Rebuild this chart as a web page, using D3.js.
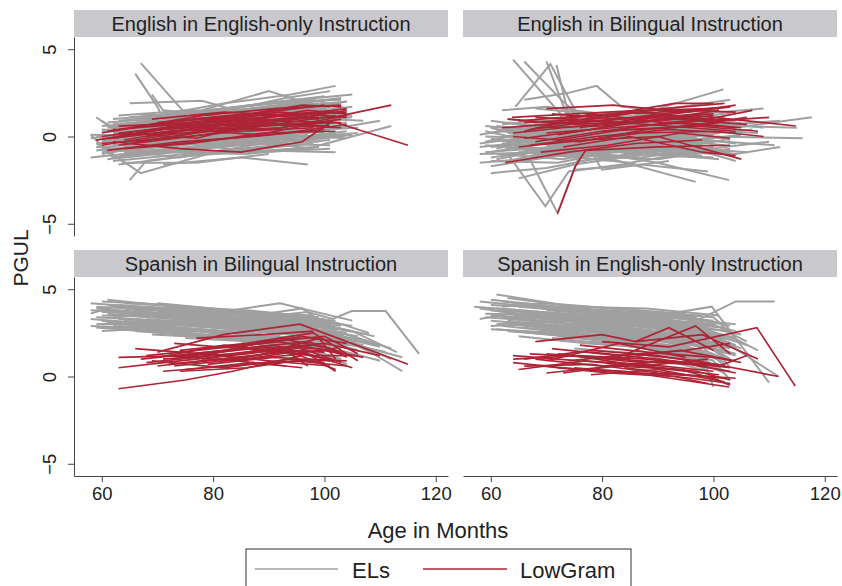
<!DOCTYPE html>
<html>
<head>
<meta charset="utf-8">
<script src="https://cdn.jsdelivr.net/npm/d3@7"></script>
<style>
body{margin:0;background:#fff;}
text{font-family:"Liberation Sans",Arial,sans-serif;fill:#222;}
</style>
</head>
<body>
<svg id="chart"></svg>
<script>
// each line = one child: age,value,age,value,...
var engOnlyGray=[
[59,-0.4,72,0.1,86,0.5,100,0.9],[60,0.6,73,0.9,86,1.2,99,1.5],[61,-0.9,74,-0.5,87,0.2,101,0.6],
[58,-1.2,70,-0.8,84,-0.3,97,0.1],[62,0.2,75,0.7,88,1.4,102,1.9],[60,-0.2,72,-0.6,85,-0.1,98,0.3],
[63,0.9,76,1.2,89,1.7,103,2.2],[61,0.3,74,0.3,87,0.9,100,1.2],[59,1.1,63,0.2,76,0.6,90,0.9],
[64,-0.6,77,-0.2,90,0.4,104,0.8],[62,-1.4,75,-1.0,88,-0.6,101,-0.2],[60,0.0,73,0.5,86,0.8,99,1.3],
[65,0.4,78,1.0,91,1.6,104,2.0],[58,0.1,71,0.0,84,0.4,96,0.7],[63,-0.2,76,0.2,89,0.8,102,1.0],
[61,-0.7,74,-1.2,87,-0.5,100,-0.1],[66,0.8,79,1.5,92,2.0,105,2.4],[60,-1.0,72,-0.3,85,0.2,98,0.0],
[64,0.5,77,0.4,90,1.1,103,1.4],[62,0.7,75,1.0,88,0.6,101,1.7],[67,-0.4,80,0.0,93,0.3,106,0.5],
[59,-0.6,72,-0.9,85,-0.8,98,-0.4],[65,-1.0,78,-0.6,91,-0.2,104,0.3],[63,1.2,76,1.5,89,1.3,102,1.8],
[61,0.0,74,0.9,87,1.4,100,2.1],[60,-0.3,73,-0.1,86,0.0,99,-0.3],[66,0.1,79,0.6,92,0.9,105,1.2],
[62,-0.8,75,-0.4,88,-0.9,101,-0.7],[67,4.2,74.5,1.5,86,0.9,99,1.4],[66,3.6,70,1.7,73,-0.5,85,0.1],
[69,2.4,71,1.5,83,1.1,96,1.6],[65,1.9,78,2.05,84,1.5,97,1.9],[64,0.9,78,1.5,90,2.6,100,1.6],
[70,1.2,82,1.9,94,2.4,102,2.9],[68,0.6,81,1.4,93,2.2,101,2.6],[65,-2.5,68,-1.4,80,-0.9,93,-0.5],
[59,-0.4,67,-2.1,79,-1.0,91,-0.6],[71,-1.6,85,-1.2,97,-1.6],[86,-0.9,98,-0.6,112,0.6],
[84,-0.2,97,0.2,110,0.9],[58,0.1,62,-1.2,75,-0.8],[63,-1.6,76,-1.1,89,-0.8,102,-0.9],
[60,0.9,66,-0.3,79,0.3,92,0.8],[68,-0.2,81,0.9,94,1.1,107,0.9],[64,-0.5,77,0.6,90,0.2,103,0.6],
[72,1.0,85,1.7,98,2.1,104,1.6],[60,-0.5,64,-1.5,77,-1.5,90,-1.0],[88,0.0,100,-0.1,105,0.1],
[70,0.3,83,1.2,96,1.5,103,1.9],[58,-0.1,70,0.4,83,-0.1,96,0.5],
[60,0.3,72,0.6,85,0.9,98,1.1],[62,-0.5,74,0.0,87,0.4,100,0.7],[61,0.8,73,1.1,86,1.5,99,1.9],
[59,-0.8,71,-0.4,84,0.1,97,0.4],[63,0.0,75,0.3,88,0.6,101,1.1],[64,-0.9,76,-0.7,89,-0.3,102,0.2],
[60,0.4,72,0.1,85,0.6,98,0.9],[62,1.0,74,1.3,87,1.8,100,2.3],[65,-0.3,77,0.1,90,0.7,103,1.3],
[61,-0.2,73,0.2,86,0.3,99,0.6],[66,0.6,78,0.9,91,1.3,104,1.6],[63,-1.1,75,-0.8,88,-0.4,101,-0.5],
[67,0.2,79,0.4,92,1.2,105,1.7],[60,-0.6,72,-0.3,85,-0.5,98,-0.1],[64,0.7,76,1.1,89,1.0,102,1.4],
[62,-0.3,74,0.5,87,1.1,100,1.6],[68,-0.8,80,-0.5,93,-0.1,106,0.2],[61,0.5,73,0.8,86,0.6,99,0.8],
[65,1.1,77,1.4,90,1.9,103,2.1],[59,0.0,71,-0.2,84,0.2,97,0.9],[63,0.4,75,0.0,88,0.3,101,0.4],
[66,-0.5,78,-0.3,91,0.1,104,-0.1],[60,-0.9,72,-0.5,85,-0.2,98,-0.7],[69,0.5,81,0.8,94,0.6,104,1.0],
[64,0.1,76,0.8,89,1.5,102,1.3],[62,0.6,74,0.2,87,0.5,100,0.2],[70,-0.3,82,0.4,95,0.8,105,1.1],
[67,1.3,79,1.0,92,1.4,104,2.0],[61,-1.3,73,-0.9,86,-1.0,99,-0.6],[65,-0.1,77,-0.4,90,-0.4,103,0.1]
]
var engOnlyRed=[
[59,-0.2,72,0.3,86,0.6,102,0.8,115,-0.5],[66,0.2,79,0.8,92,1.0,101.5,1.1,112,1.8],
[62,-0.3,74,-0.7,85,-0.9,96,-0.3,101.5,0.9],[60,0.0,73,0.6,86,1.0,99,1.4],[63,-0.5,76,0.0,89,0.6,102,1.2],
[61,0.3,74,0.9,87,1.3,100,1.8],[64,-0.2,77,0.5,90,0.4,103,1.0],[60,-0.4,72,-0.1,85,0.3,98,0.5],
[65,0.5,78,1.2,91,1.6,103,1.8],[62,0.1,75,0.2,88,0.8,101,0.6],[67,-0.6,80,-0.2,93,0.2,104,0.7],
[59,-0.2,71,0.4,84,0.7,97,1.2],[63,0.6,76,0.8,89,1.1,102,1.5],[68,0.0,81,0.6,94,1.3,104,1.4],
[61,-0.8,74,-0.3,87,0.0,100,0.4],[70,0.8,83,1.1,96,1.8,103,1.7],[64,0.2,77,-0.1,90,0.9,103,0.8],
[66,-0.3,79,0.3,92,0.5,104,1.2],[60,0.2,73,0.9,86,1.3,99,1.0],[72,0.4,85,0.9,97,1.5,104,1.3],
[62,-0.1,75,0.4,88,0.1,101,0.9],[69,1.0,82,1.4,95,1.2,104,1.6],
[61,-0.1,73,0.5,86,0.8,99,1.1],[63,0.2,75,0.6,88,1.2,101,1.4],[65,-0.4,77,0.2,90,0.7,103,0.5],
[60,-0.5,72,0.1,85,0.5,98,0.8],[67,0.6,79,0.9,92,1.4,104,1.1],[62,0.4,74,0.7,87,0.6,100,1.3],
[64,-0.7,76,-0.4,89,0.2,102,0.3],[68,0.3,80,1.0,93,0.9,104,1.5]
]
var engBiGray=[
[58,-0.6,70,-0.2,83,0.1,96,-0.3],[59,0.3,71,-0.5,84,0.4,97,0.0],[60,-1.2,72,-0.7,85,-0.4,98,0.2],
[61,0.6,73,0.2,86,0.8,99,0.5],[60,-0.1,72,-1.0,85,-0.8,98,-0.5],[62,-0.8,74,0.1,87,-0.2,100,0.6],
[58,-1.5,70,-1.2,83,-0.6,96,-1.0],[63,0.2,75,0.7,88,0.3,101,0.9],[59,-0.3,71,0.5,84,1.0,97,0.7],
[61,-1.0,73,-1.3,86,-0.5,99,-0.7],[64,0.0,76,-0.4,89,0.5,102,0.3],[60,0.9,72,0.4,85,0.0,98,1.0],
[62,-0.4,74,-0.9,87,-1.2,100,-0.6],[65,-0.7,77,0.3,90,0.6,103,-0.2],[58,0.1,70,0.8,83,0.5,96,1.2],
[63,-1.4,75,-0.6,88,-0.9,101,-1.3],[66,0.5,78,1.1,91,0.8,104,1.4],[60,-0.9,72,-0.2,85,-1.0,98,-1.2],
[61,0.4,73,0.0,86,-0.3,99,0.3],[64,-0.2,76,0.6,89,1.0,102,1.1],[67,-1.1,79,-0.8,92,-0.4,105,0.1],
[59,-0.5,71,-0.8,84,-0.1,97,0.4],[62,0.7,74,1.0,87,1.2,100,0.8],[65,0.1,77,-0.5,90,-0.7,103,-0.9],
[68,-0.3,80,0.2,93,0.9,106,0.6],[60,-1.7,72,-1.1,85,-1.5,98,-0.8],[63,1.0,75,0.5,88,1.3,101,1.5],
[66,-0.6,78,-1.0,91,-0.2,104,-1.4],[70,0.3,82,0.0,95,0.4,108,0.2],[72,-0.5,84,-0.3,97,-0.8,110,-0.3],
[74,0.8,86,1.1,99,0.6,112,0.9],[64,4.4,72.5,1.3,76,-1.4,88,-0.9],[66,4.3,73,2.0,78,0.6,90,0.2],
[70,4.3,74.5,0.5,86,0.1,98,-0.4],[71.8,4.1,74,1.2,80,-1.9,92,-1.4],[64.4,1.7,70.7,4.15,76,1.0,88,0.4],
[66,2.1,74,2.5,79,2.9,83.5,1.7,95,1.4],[62,1.5,70,1.7,84.8,1.1,101.8,2.7],[68,1.6,78,1.3,90,1.5,103,2.1],
[84,-0.8,97,0.2,117.7,1.1],[88,0.3,100,0.0,116,-0.1],[90,-0.2,104,0.6,115,0.5],[86,0.9,98,1.3,109,1.6],
[65,-2.4,75,-1.6,88,-1.0,100,-1.2],[67,-1.3,72,-4.4,76,-1.0,90,-0.8],[63,-1.0,69.8,-4.0,74,-2.0,86,-1.5],
[70,-0.5,83,-1.4,96.8,-2.6],[78,-0.9,90,-1.5,102.8,-2.5],[75,-1.9,87,-1.6,99,-2.0],[60,-2.1,70,-1.8,80,-1.2],
[92,-0.6,104,-1.0,112,-0.6],
[59,-0.9,71,-0.6,84,-0.3,97,-0.1],[61,-0.2,73,-0.4,86,0.2,99,-0.2],[58,-0.4,70,0.1,83,-0.5,96,0.3],
[62,0.3,74,-0.2,87,0.6,100,0.1],[60,-0.6,72,-0.3,85,0.3,98,-0.6],[63,-0.3,75,0.2,88,-0.4,101,0.2],
[59,0.6,71,0.2,84,0.7,97,0.4],[64,-1.0,76,-0.7,89,-0.1,102,-0.5],[61,-1.3,73,-0.6,86,-0.9,99,-0.3],
[65,0.4,77,0.0,90,0.3,103,0.7],[60,0.2,72,0.7,85,0.4,98,0.6],[62,-1.1,74,-0.4,87,-0.7,100,-1.0],
[66,-0.2,78,-0.6,91,0.1,104,-0.4],[58,-1.0,70,-0.9,83,-1.1,96,-0.5],[63,0.8,75,0.3,88,0.9,101,0.4],
[67,0.0,79,0.5,92,0.2,105,0.8],[61,-0.7,73,0.3,86,0.0,99,-0.9],[64,0.5,76,1.0,89,0.7,102,0.6],
[60,-1.4,72,-1.5,85,-0.7,98,-1.1],[65,-0.9,77,-1.1,90,-1.3,103,-0.7],[69,0.6,81,0.4,94,0.0,107,0.4],
[62,0.0,74,0.4,87,0.0,100,-0.3],[68,-0.8,80,-0.4,93,-0.6,106,-0.9],[59,0.0,71,-0.1,84,-0.6,97,-0.8],
[63,-0.6,75,-1.2,88,-0.5,101,0.0],[71,0.9,83,0.6,96,1.0,109,0.5],[66,0.9,78,0.4,91,0.2,104,0.9],
[60,0.5,72,-0.4,85,-0.2,98,0.4],[73,-1.0,85,-0.6,98,-0.2,111,-0.5],[64,-0.4,76,0.1,89,-0.9,102,-0.2]
]
var engBiRed=[
[63.8,1.1,75,1.3,87,1.5,100,1.6],[62.6,-1.5,74,-0.9,86,-0.4,98,-0.2],[72,-4.4,75.2,-1.7,77,-0.8,90,-0.6,103,-0.5],
[66,0.8,78,1.0,91,1.6,102,1.9],[64,0.2,76,0.6,89,0.9,100,1.2],[68,-0.3,80,0.3,93,0.5,106,1.1],
[70,0.6,82,1.3,93,1.9,100,1.9],[65,-0.6,77,-0.2,90,0.0,105,-1.3],[72,0.1,84,0.7,97,1.2,114.8,0.6],
[74,1.1,86,1.4,99,1.0,107,1.5],[67,0.4,79,0.9,92,0.6,104,0.3],[69,-0.9,81,-0.5,94,0.2,103,-0.1],
[71,1.3,83,1.0,96,1.5,104,1.4],[64,0.0,76,-0.3,88,0.4,101,0.8],[76,0.5,88,1.1,101,0.9,110,1.1],
[73,-0.6,85,0.0,98,-0.9,104,-1.1],[66,-0.1,78,0.4,91,1.2,102,0.9],[80,0.3,92,0.8,104,0.5],
[70,1.6,82,1.8,95,1.4,103,1.7],[68,0.5,80,0.6,93,1.0,106,0.7],[75,-0.3,87,0.2,100,0.3,109,0.0],
[62,0.5,74,0.8,87,1.1,100,1.3],[65,0.9,77,1.2,90,1.4,103,1.7],[67,-0.5,79,0.0,92,0.4,104,0.2],
[63,1.0,75,0.7,88,0.9,101,1.5],[70,0.2,82,0.5,95,0.8,105,0.5],[66,0.3,78,1.3,91,0.8,103,1.0],
[72,-0.2,84,0.4,97,0.6,108,0.3],[68,1.1,80,0.9,93,1.3,104,1.8]
]
var spaBiGray=[
[58,4.2,70,3.9,83,3.6,96,3.3],[59,3.9,71,3.6,84,3.2,97,2.9],[60,3.5,72,3.4,85,3.0,98,2.6],
[61,4.4,73,4.0,86,3.8,99,3.4],[59,3.0,71,3.1,84,2.7,97,2.3],[62,3.7,74,3.3,87,3.4,100,2.8],
[60,2.6,72,2.8,85,2.5,98,2.0],[63,4.1,75,3.7,88,3.5,101,3.0],[58,3.3,70,3.0,83,2.9,96,2.5],
[64,3.2,76,2.9,89,2.6,102,2.2],[61,3.8,73,3.5,86,3.1,99,2.7],[65,4.0,77,3.8,90,3.3,103,2.9],
[59,2.8,71,2.5,84,2.3,97,1.9],[62,3.4,74,3.0,87,2.8,100,2.4],[66,3.6,78,3.2,91,3.0,104,2.5],
[60,4.3,72,4.1,85,3.7,98,3.5],[63,2.9,75,2.6,88,2.4,101,1.8],[67,3.9,79,3.6,92,4.2,105,3.2],
[61,3.1,73,2.8,86,2.2,99,1.9],[64,4.2,76,4.0,89,3.6,102,3.2],[68,3.3,80,3.0,93,2.6,106,2.0],
[65,2.7,77,2.4,90,2.1,103,1.6],[70,3.7,82,3.4,95,3.1,108,2.4],[72,3.1,84,2.8,97,2.5,110,1.8],
[74,3.5,86,3.2,99,2.9,112,1.6],[76,2.9,88,2.6,101,2.2,114,1.1],[78,3.3,90,3.0,103,2.4,114,0.3],
[80,3.6,92,3.4,105,2.6,113,1.4],[82,2.6,94,2.2,107,1.7,112,1.0],[84,3.0,96,2.6,104,2.0,109,1.3],
[86,2.3,98,1.9,104,1.2],[88,3.4,97,3.7,101.5,3.3,104.9,3.75,111,3.75,117,1.3],[85,2.0,95,1.5,102,0.8],
[90,2.7,98,2.2,106,1.5],[66,3.0,78,2.7,91,2.3,100,1.3],[69,2.4,81,2.2,94,1.8,103,1.0],
[73,2.6,85,2.1,98,1.5,104,0.7],[71,3.6,83,3.3,96,3.9,100,3.0],[75,2.2,87,2.0,100,1.4],
[60,3.2,66,2.9,78,2.6,92,2.3],[58,3.6,62,4.0,74,3.7,86,3.5],[70,4.2,80,3.9,93,3.4],
[77,3.7,89,3.5,102,3.1,108,2.5],[79,2.4,91,2.1,104,1.4,110,0.9],
[58,3.8,70,3.6,83,3.3,96,3.0],[59,4.0,71,3.8,84,3.4,97,3.1],[60,3.0,72,3.0,85,2.7,98,2.3],
[61,3.6,73,3.3,86,2.9,99,2.5],[62,4.1,74,3.9,87,3.6,100,3.3],[63,3.3,75,3.1,88,3.1,101,2.6],
[64,3.9,76,3.4,89,3.2,102,2.7],[60,2.8,72,2.6,85,2.2,98,1.7],[65,3.5,77,3.2,90,2.9,103,2.3],
[61,4.1,73,3.7,86,3.5,99,3.0],[66,3.3,78,3.0,91,2.7,104,2.1],[62,2.9,74,2.7,87,2.4,100,2.1],
[67,4.2,79,3.9,92,3.6,105,2.9],[63,3.7,75,3.4,88,3.0,101,2.5],[68,3.6,80,3.3,93,3.0,106,2.3],
[59,3.4,71,3.2,84,3.0,97,2.6],[64,2.7,76,2.4,89,2.1,102,1.5],[69,3.0,81,2.8,94,2.4,107,1.8],
[70,3.5,82,3.1,95,2.8,108,2.0],[65,3.9,77,3.6,90,3.4,103,3.0],[71,2.8,83,2.5,96,2.0,105,1.2],
[72,3.9,84,3.6,97,3.2,109,2.3],[66,2.6,78,2.3,91,2.0,101,1.2],[60,3.7,72,3.6,85,3.3,98,2.9],
[74,3.0,86,2.7,99,2.2,111,1.4],[62,3.1,74,2.8,87,2.5,100,1.8],[67,3.1,79,2.9,92,2.6,104,1.8],
[73,3.3,85,3.0,98,2.6,110,1.7],[58,2.9,70,2.7,83,2.6,96,2.1],[76,3.6,88,3.2,100,2.8,109,1.9]
]
var spaBiRed=[
[63,-0.7,75,-0.2,83.5,0.3,96,1.2],[63,1.1,75,1.2,87,1.6,100,1.4],[63,0.5,74,0.9,86,1.3,98,1.8],
[66,1.6,78,1.3,90,0.9,101,0.6],[70,1.4,81.8,2.4,95.6,3.0,115,0.7],[72,0.7,84,1.1,96,1.5,102,0.3],
[68,1.2,80,1.6,92,2.0,103,1.3],[71,0.3,83,0.6,95,0.9,104,0.6],[74,1.5,86,1.9,98,2.5,106,0.9],
[76,0.8,88,1.2,99,2.2,102,1.0],[69,0.9,82,0.5,94,1.0,100,0.8],[73,1.9,85,1.6,97,2.0,103,1.4],
[78,1.0,90,1.6,100,1.9,110,1.2],[75,0.4,87,0.8,96,0.5],[67,1.0,79,1.4,91,1.8,99,1.1],
[80,1.3,92,2.2,101,1.6,104,1.1],[72,1.2,84,0.9,94,1.4,102,0.4],[77,2.2,89,2.4,98,2.6],
[82,0.9,93,1.5,97,0.6],[70,0.6,81,1.0,93,0.6],[85,1.7,96,2.3,104,1.9],[74,1.1,86,1.6,98,1.2,106,1.2],
[71,1.0,83,1.3,95,1.7,103,0.8],[73,0.6,85,1.0,97,1.3,105,0.5],[68,0.8,80,1.2,92,1.5,101,1.0],
[76,1.3,88,1.7,99,1.6,107,1.1],[79,0.7,91,1.1,101,0.9],[70,1.1,82,1.8,94,1.3,102,1.6],
[74,0.3,86,0.5,97,1.0,104,0.9],[78,1.6,90,2.0,100,2.3,106,1.3]
]
var spaOnlyGray=[
[57,4.0,69,3.7,82,3.4,95,3.0],[61,4.7,73,4.1,86,3.8,99,3.2],[59,3.6,71,3.5,84,3.1,97,2.7],
[60,3.2,72,2.9,85,2.5,98,2.0],[62,4.3,74,3.8,87,3.6,100,3.1],[58,3.9,70,3.4,83,3.2,96,2.4],
[63,3.0,75,2.6,88,2.3,101,1.5],[60,4.1,72,3.9,85,3.5,98,3.3],[64,3.5,76,3.2,89,2.8,102,2.3],
[61,2.7,73,2.4,86,2.0,99,1.3],[65,4.0,77,3.7,90,3.7,103,2.9],[62,3.4,74,3.0,87,2.6,100,1.9],
[66,3.1,78,2.8,91,2.4,104,1.7],[60,3.8,72,3.3,85,2.9,98,2.5],[67,3.7,79,3.5,92,3.2,105,2.4],
[63,4.5,75,4.0,88,3.9,101,3.5],[68,2.9,80,2.5,93,2.1,104,1.2],[61,3.0,73,3.2,86,2.7,99,2.1],
[70,3.3,82,3.0,95,2.6,103,1.0],[64,2.6,76,2.2,89,1.8,100,0.9],[72,3.6,84,3.3,97,2.9,105,2.0],
[74,2.5,86,2.1,98,1.2,100,-0.6],[76,3.1,88,2.7,99,2.2,103,0.5],[78,2.0,90,1.6,98,0.5],
[80,3.8,92,3.6,100,3.4,104,2.2],[66,4.2,78,3.8,91,3.5,97,3.4],[69,3.9,81,3.7,94,3.4,100,3.2],
[82,2.8,94,2.4,103,1.6],[84,3.4,93,3.2,104,1.8],[86,1.5,96,1.0,102,0.2],[65,2.3,77,1.9,90,1.6,101,0.6],
[71,2.2,83,1.8,95,1.3,100,0.0],[88,3.0,97,3.2,104,4.3,111,4.3],[90,3.5,99.7,4.0,110,-0.35],
[92,2.6,101,2.2,111.7,0.0],[95,2.9,103,2.3,108,1.5],[58,3.3,63,3.6,75,3.4,87,3.1],
[60,2.9,67,3.0,79,2.6,92,2.2],[73,2.8,85,2.5,98,1.9,102,1.1],[62,4.0,70,4.2,82,3.9,95,3.6],
[79,2.3,91,2.0,99,1.4,103,0.9],[75,1.6,87,1.3,99,0.3],
[58,4.3,70,3.9,83,3.7,96,3.4],[59,3.4,71,3.1,84,2.8,97,2.2],[60,4.4,72,4.0,85,3.7,98,3.5],
[61,3.5,73,3.2,86,2.9,99,2.3],[62,3.8,74,3.5,87,3.2,100,2.7],[63,3.2,75,2.8,88,2.4,101,1.8],
[60,2.7,72,2.5,85,2.1,98,1.5],[64,4.1,76,3.7,89,3.4,102,2.8],[65,3.3,77,2.9,90,2.5,103,1.7],
[61,3.9,73,3.6,86,3.3,99,2.9],[66,3.6,78,3.3,91,3.0,104,2.2],[62,2.9,74,2.5,87,2.0,100,1.2],
[67,3.0,79,2.6,92,2.2,104,1.3],[63,3.8,75,3.5,88,3.3,101,2.8],[68,3.5,80,3.2,93,2.8,103,2.1],
[64,3.0,76,2.7,89,2.4,102,1.9],[69,2.7,81,2.3,94,1.9,102,0.8],[70,3.8,82,3.5,95,3.3,104,2.6],
[65,3.6,77,3.4,90,3.0,103,2.6],[71,2.9,83,2.6,96,2.3,103,1.4],[72,2.3,84,1.9,96,1.5,101,0.4],
[66,2.8,78,2.4,91,2.1,100,1.6],[73,3.4,85,3.0,97,2.6,105,1.6],[67,4.0,79,3.7,92,3.4,104,3.0],
[74,3.2,86,2.9,98,2.6,106,1.8],[60,3.5,72,3.1,85,2.7,98,2.2],[76,2.6,88,2.2,98,1.7,102,0.6],
[77,3.5,89,3.3,100,3.0,106,2.0],[63,2.6,75,2.3,88,1.9,99,0.9],[81,2.2,92,1.8,100,0.9,103,-0.2]
]
var spaOnlyRed=[
[64,1.2,76,0.9,88,0.7,100,0.3],[64,0.8,76,0.4,88,0.1,102.8,-0.6],[68,2.0,80,2.4,86,2.0,92,2.8,100,1.5],
[70,1.3,82,1.0,96.8,2.9,103,1.3],[80,2.0,92,1.7,107.8,2.8,114.7,-0.55],[72,0.5,84,0.3,96,-0.1,103,-0.4],
[66,1.0,78,1.5,90,1.2,102,0.6],[74,0.9,86,1.3,97,0.9,111.7,0.0],[69,0.6,81,0.2,93,0.0,99,-0.4],
[76,1.8,88,1.4,100,1.1,105,0.8],[65,0.4,77,0.9,89,0.5,101,0.1],[78,0.1,90,0.4,102,-0.3],
[71,1.6,83,1.2,95,1.5,103,1.9],[73,0.2,85,0.7,97,0.3,103,-0.2],[82,1.0,94,1.5,104,0.9],
[67,1.3,79,1.1,91,0.8,101,0.7],[84,0.5,95,0.1,104,-0.1],[75,1.2,87,0.6,99,1.0],
[86,2.0,98,2.4,108,1.0],[70,0.9,83,1.9,95,1.1],
[66,0.6,78,0.7,90,0.2,102,-0.1],[68,1.0,80,0.6,92,0.9,103,0.5],[72,1.3,84,0.9,96,0.7,104,0.2],
[75,0.5,87,0.2,99,0.0,103,-0.5],[70,0.2,82,0.6,94,0.4,101,-0.2],[78,1.4,90,1.0,101,0.6,106,1.2],
[64,1.0,76,1.2,88,1.0,99,0.6],[80,0.6,92,0.9,103,0.3]
]
var panelTitles=["English in English-only Instruction","English in Bilingual Instruction",
  "Spanish in Bilingual Instruction","Spanish in English-only Instruction"]
var xTicks=[60,80,100,120]
var yTicks=[-5,0,5]
var legendLabels=["ELs","LowGram"]

var grayCol="#a0a0a0", redCol="#ad2436"
var screen={width:842,height:586}
var svg=d3.select("#chart").attr("width",screen.width).attr("height",screen.height)

var plotW=374, stripH=27, plotH=199
var xScale=d3.scaleLinear().domain([55,122.2]).range([0,plotW])
var yScale=d3.scaleLinear().domain([-5.7,5.7]).range([plotH,0])

var toPoints=function(flat){
    var pts=[]
    for(var i=0;i<flat.length;i+=2){pts.push([flat[i],flat[i+1]])}
    return pts
}
var lineGenerator=d3.line()
    .x(function(d){return xScale(d[0])})
    .y(function(d){return yScale(d[1])})

var panels=[
  {title:panelTitles[0],gray:engOnlyGray,red:engOnlyRed,left:74,top:10,yAxis:true,xAxis:false},
  {title:panelTitles[1],gray:engBiGray,red:engBiRed,left:463,top:10,yAxis:false,xAxis:false},
  {title:panelTitles[2],gray:spaBiGray,red:spaBiRed,left:74,top:250,yAxis:true,xAxis:true},
  {title:panelTitles[3],gray:spaOnlyGray,red:spaOnlyRed,left:463,top:250,yAxis:false,xAxis:true}
]

panels.forEach(function(p){
    var g=svg.append("g").attr("transform","translate("+p.left+","+p.top+")")
    //strip
    g.append("rect").attr("width",plotW).attr("height",stripH).attr("fill","#c9c9cd")
    g.append("text").text(p.title)
        .attr("x",plotW/2).attr("y",stripH/2+7)
        .attr("text-anchor","middle").style("font-size","20px")
    var plot=g.append("g").attr("transform","translate(0,"+stripH+")")
    plot.append("g").selectAll("path").data(p.gray).enter().append("path")
        .attr("d",function(d){return lineGenerator(toPoints(d))})
        .attr("fill","none").attr("stroke",grayCol).attr("stroke-width",2)
    plot.append("g").selectAll("path").data(p.red).enter().append("path")
        .attr("d",function(d){return lineGenerator(toPoints(d))})
        .attr("fill","none").attr("stroke",redCol).attr("stroke-width",1.7)
    if(p.yAxis){
        var ya=plot.append("g").call(d3.axisLeft(yScale).tickValues(yTicks).tickSize(6).tickSizeOuter(0))
        ya.select(".domain").attr("stroke","#444")
        ya.selectAll("line").attr("stroke","#444")
        ya.selectAll("text")
            .attr("transform","rotate(-90)")
            .attr("x",0).attr("y",-18).attr("dy",0)
            .attr("text-anchor","middle")
            .style("font-size","18.5px").attr("fill","#222")
    }
    if(p.xAxis){
        var xa=plot.append("g").attr("transform","translate(0,"+plotH+")")
            .call(d3.axisBottom(xScale).tickValues(xTicks).tickSize(6).tickSizeOuter(0).tickPadding(5))
        xa.select(".domain").attr("stroke","#444")
        xa.selectAll("line").attr("stroke","#444")
        xa.selectAll("text").style("font-size","18.5px").attr("fill","#222")
    }
})

//labels
svg.append("text").text("Age in Months")
    .attr("x",438).attr("y",538).attr("text-anchor","middle").style("font-size","22px")
svg.append("g").attr("transform","translate(28,258)")
    .append("text").text("PGUL").attr("transform","rotate(-90)")
    .attr("text-anchor","middle").style("font-size","21px")

//legend
var leg=svg.append("g")
leg.append("rect").attr("x",246).attr("y",549).attr("width",385).attr("height",60)
    .attr("fill","none").attr("stroke","#333").attr("stroke-width",1)
leg.append("line").attr("x1",255).attr("x2",338).attr("y1",569).attr("y2",569)
    .attr("stroke",grayCol).attr("stroke-width",1.5)
leg.append("text").text(legendLabels[0]).attr("x",352).attr("y",578).style("font-size","22px")
leg.append("line").attr("x1",423).attr("x2",507).attr("y1",569).attr("y2",569)
    .attr("stroke",redCol).attr("stroke-width",1.5)
leg.append("text").text(legendLabels[1]).attr("x",520).attr("y",578).style("font-size","22px")
</script>
</body>
</html>
